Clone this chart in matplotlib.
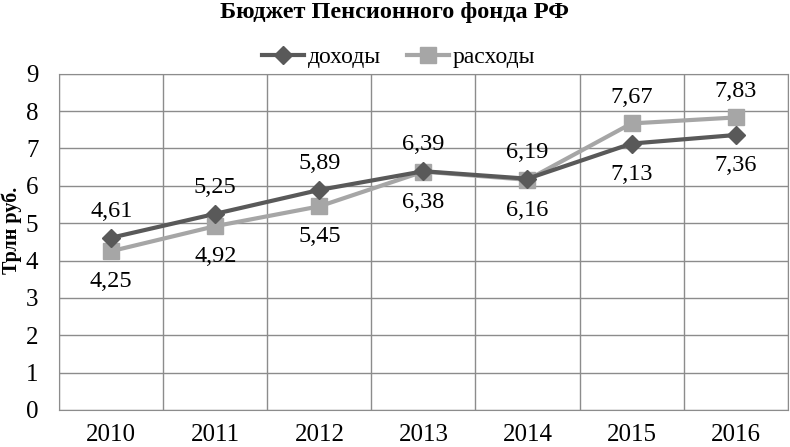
import matplotlib
matplotlib.use("Agg")
import matplotlib.pyplot as plt

years = ["2010", "2011", "2012", "2013", "2014", "2015", "2016"]
dohody = [4.61, 5.25, 5.89, 6.39, 6.19, 7.13, 7.36]
rashody = [4.25, 4.92, 5.45, 6.38, 6.16, 7.67, 7.83]
# label above (+1) or below (-1)
pos_doh = [1, 1, 1, 1, 1, -1, -1]
pos_ras = [-1, -1, -1, -1, -1, 1, 1]

plt.rcParams['font.family'] = ['Liberation Serif', 'DejaVu Serif']

fig = plt.figure(figsize=(7.9, 4.47), dpi=100)
ax = fig.add_axes([0.075, 0.083, 0.922, 0.752])

x = list(range(len(years)))
ax.plot(x, dohody, color='#595959', lw=3, marker='D', ms=9, label='доходы', zorder=4)
ax.plot(x, rashody, color='#a6a6a6', lw=3, marker='s', ms=11, label='расходы', zorder=3)

def fmt(v):
    return f"{v:.2f}".replace('.', ',')

for xi, v, p in zip(x, dohody, pos_doh):
    ax.annotate(fmt(v), (xi, v), xytext=(0, 19 if p > 0 else -22), textcoords='offset points',
                ha='center', va='center', fontsize=17.5)
for xi, v, p in zip(x, rashody, pos_ras):
    ax.annotate(fmt(v), (xi, v), xytext=(0, 19 if p > 0 else -22), textcoords='offset points',
                ha='center', va='center', fontsize=17.5)

ax.set_xlim(-0.5, len(years) - 0.5)
ax.set_ylim(0, 9)
ax.set_yticks(range(10))
ax.set_xticks(x)
ax.set_xticklabels(years)
ax.set_xticks([i + 0.5 for i in range(-1, len(years))], minor=True)
ax.tick_params(axis='both', which='both', length=0, labelsize=18)
ax.tick_params(axis='x', pad=10)
ax.tick_params(axis='y', pad=15)
ax.grid(True, axis='y', color='#8c8c8c', lw=1)
ax.grid(True, axis='x', which='minor', color='#8c8c8c', lw=1)
for s in ax.spines.values():
    s.set_color('#8c8c8c')

fig.text(0.015, 0.485, 'Трлн руб.', fontsize=14.5, fontweight='bold', rotation=90,
         ha='center', va='center')
fig.text(0.5, 0.972, 'Бюджет Пенсионного фонда РФ', fontsize=17.5, fontweight='bold',
         ha='center', va='center')
ax.legend(loc='center', bbox_to_anchor=(0.466, 1.048), ncol=2, frameon=False,
          fontsize=17, handlelength=1.8, columnspacing=1.1, handletextpad=0.15,
          borderaxespad=0)

fig.savefig('out.png', dpi=100)
